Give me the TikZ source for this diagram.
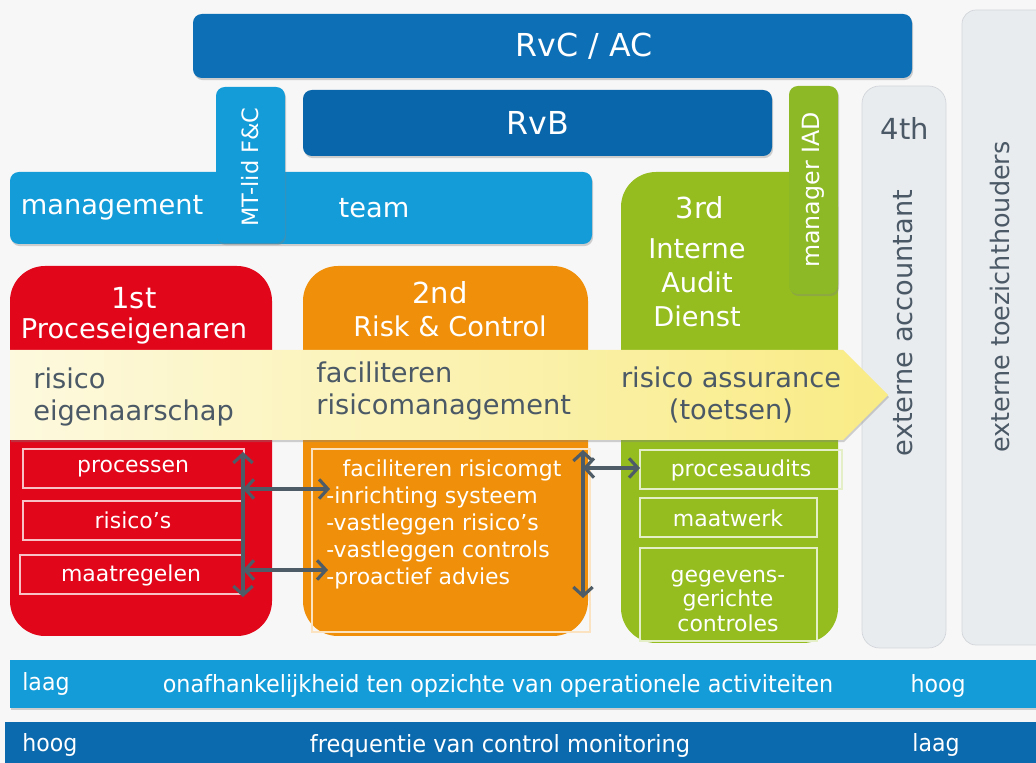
\documentclass[tikz,border=0pt]{standalone}
\usepackage{fontspec}
\usepackage{graphicx}
\setmainfont{DejaVu Sans}
\usetikzlibrary{arrows.meta,shadows}

\definecolor{bgc}{HTML}{F7F7F7}
\definecolor{rvcblue}{HTML}{0D6FB5}
\definecolor{rvbblue}{HTML}{0966AA}
\definecolor{mtblue}{HTML}{149CD8}
\definecolor{lowblue}{HTML}{0B69AD}
\definecolor{lodred}{HTML}{E2061B}
\definecolor{lodorange}{HTML}{F0900A}
\definecolor{lodgreen}{HTML}{95BD20}
\definecolor{iadgreen}{HTML}{8CB925}
\definecolor{extgray}{HTML}{E9ECEF}
\definecolor{extline}{HTML}{D2D6DA}
\definecolor{slate}{HTML}{4B5966}
\definecolor{yellowa}{HTML}{FDF9DE}
\definecolor{yellowb}{HTML}{F9EB85}
\definecolor{arrowgray}{HTML}{4E5C68}

\begin{document}
\begin{tikzpicture}[x=0.02cm,y=-0.02cm,
    shade/.style={drop shadow={shadow xshift=0.6pt,shadow yshift=-1.2pt,opacity=0.35}},
    bar/.style={rounded corners=5pt,shade},
    lod/.style={rounded corners=0.7cm},
    inbox/.style={draw=white!75!#1,line width=0.6pt},
    lbl/.style={text=white,inner sep=0pt},
    dark/.style={text=slate,inner sep=0pt},
    fhuge/.style={font=\fontsize{18}{22}\selectfont},
    fhead/.style={font=\fontsize{15.5}{19.5}\selectfont},
    ford/.style={font=\fontsize{16.5}{20}\selectfont},
    fbody/.style={font=\fontsize{12.5}{15.3}\selectfont},
    fbar/.style={font=\fontsize{13.5}{16}\selectfont}]
  \useasboundingbox (0,0) rectangle (1036,763);
  \fill[bgc] (0,0) rectangle (1036,763);

  \draw[extline,fill=extgray,rounded corners=8pt] (962,10) rectangle (1050,645);
  \draw[extline,fill=extgray,rounded corners=10pt] (862,86) rectangle (946,648);
  \node[dark,ford] (fourth) at (905,128) {4th};
  \node[dark,fhead,rotate=90] (acc) at (903,323) {externe accountant};
  \node[dark,fhead,font=\fontsize{14.5}{18}\selectfont,rotate=90] (toez) at (1000,297) {externe toezichthouders};

  \fill[rvcblue,bar] (193,14) rectangle (912,78);
  \node[lbl,fhuge] (rvc) at (584,46) {RvC / AC};
  \fill[rvbblue,bar] (303,90) rectangle (772,156);
  \node[lbl,fhuge] (rvb) at (538,123) {RvB};

  \fill[mtblue,bar] (10,172) rectangle (592,244);
  \node[lbl,fhead] (mgmt) at (112,208) {management};
  \node[lbl,fhead] (team) at (374,208) {team};
  \fill[mtblue,bar] (216,87) rectangle (285,243);
  \node[lbl,fbody,font=\fontsize{12.8}{15}\selectfont,rotate=90] (mtlid) at (250,167) {MT-lid F\&C};

  \fill[lodred,lod] (10,266) rectangle (272,636);
  \node[lbl,ford] (first) at (134,298) {1st};
  \node[lbl,fhead] (eigen) at (134,331) {Proceseigenaren};

  \fill[lodorange,lod] (303,266) rectangle (588,636);
  \node[lbl,ford] (second) at (440,293) {2nd};
  \node[lbl,fhead] (riskc) at (450,326) {Risk \& Control};

  \fill[lodgreen,lod] (621,172) rectangle (838,643);
  \node[lbl,ford] (third) at (700,208) {3rd};
  \node[lbl,fhead,align=center,font=\fontsize{15.5}{19.3}\selectfont] (iad) at (697,283) {Interne\\Audit\\Dienst};
  \fill[iadgreen,rounded corners=5pt,shade] (789,86) rectangle (838,294);
  \node[lbl,fbody,font=\fontsize{13.5}{16}\selectfont,rotate=90] (miad) at (813,190) {manager IAD};

  \path[left color=yellowa,right color=yellowb,shade]
    (10,350) -- (843,350) -- (888,395) -- (843,440) -- (10,440) -- cycle;
  \node[dark,fhead,align=left,anchor=west,font=\fontsize{15.5}{18.2}\selectfont] (own) at (33,397) {risico\\eigenaarschap};
  \node[dark,fhead,align=left,anchor=west,font=\fontsize{15.5}{18.2}\selectfont] (facil) at (316,391) {faciliteren\\risicomanagement};
  \node[dark,fhead,align=center,font=\fontsize{15.5}{18.2}\selectfont] (assur) at (731,395) {risico assurance\\(toetsen)};

  \draw[inbox=lodred] (23,449) rectangle (244,488);
  \node[lbl,fbody] (proc) at (133,469) {processen};
  \draw[inbox=lodred] (23,501) rectangle (242,540);
  \node[lbl,fbody] (ris) at (133,520) {risico's};
  \draw[inbox=lodred] (20,555) rectangle (242,594);
  \node[lbl,fbody] (maat) at (131,575) {maatregelen};

  \draw[inbox=lodorange] (312,449) rectangle (590,632);
  \node[lbl,fbody] (fgmt) at (452,470) {faciliteren risicomgt};
  \node[lbl,fbody,anchor=west] (l1) at (326,497) {-inrichting systeem};
  \node[lbl,fbody,anchor=west] (l2) at (326,524) {-vastleggen risico's};
  \node[lbl,fbody,anchor=west] (l3) at (326,551) {-vastleggen controls};
  \node[lbl,fbody,anchor=west] (l4) at (326,578) {-proactief advies};

  \draw[inbox=lodgreen] (640,450) rectangle (842,489);
  \node[lbl,fbody] (paud) at (741,470) {procesaudits};
  \draw[inbox=lodgreen] (640,498) rectangle (817,537);
  \node[lbl,fbody] (mwerk) at (728,518) {maatwerk};
  \draw[inbox=lodgreen] (640,548) rectangle (817,641);
  \node[lbl,fbody,align=center,font=\fontsize{12.5}{13.8}\selectfont] (gcon) at (728,601) {gegevens-\\gerichte\\controles};

  \coordinate (v1a) at (243,452);
  \coordinate (v1b) at (243,597);
  \coordinate (h1a) at (243,489);
  \coordinate (h1b) at (330,489);
  \coordinate (h2a) at (243,570);
  \coordinate (h2b) at (328,570);
  \coordinate (v2a) at (583,450);
  \coordinate (v2b) at (583,598);
  \coordinate (h3a) at (583,468);
  \coordinate (h3b) at (640,468);
  \begin{scope}[arrowgray,line width=1.8pt,>={Straight Barb[length=5pt,width=11pt]},<->]
    \draw (v1a) -- (v1b);
    \draw (h1a) -- (h1b);
    \draw (h2a) -- (h2b);
    \draw (v2a) -- (v2b);
    \draw (h3a) -- (h3b);
  \end{scope}

  \fill[mtblue,shade] (10,660) rectangle (1050,708);
  \node[lbl,fbar,anchor=west] (lo1) at (22,684) {\scalebox{0.93}[1]{laag}};
  \node[lbl,fbar] (indep) at (498,686) {\scalebox{0.94}[1]{onafhankelijkheid ten opzichte van operationele activiteiten}};
  \node[lbl,fbar] (hi1) at (938,686) {\scalebox{0.93}[1]{hoog}};
  \fill[lowblue] (5,722) rectangle (1050,770);
  \node[lbl,fbar,anchor=west] (hi2) at (22,745) {\scalebox{0.93}[1]{hoog}};
  \node[lbl,fbar] (freq) at (500,746) {\scalebox{0.95}[1]{frequentie van control monitoring}};
  \node[lbl,fbar] (lo2) at (936,745) {\scalebox{0.93}[1]{laag}};
\end{tikzpicture}
\end{document}
